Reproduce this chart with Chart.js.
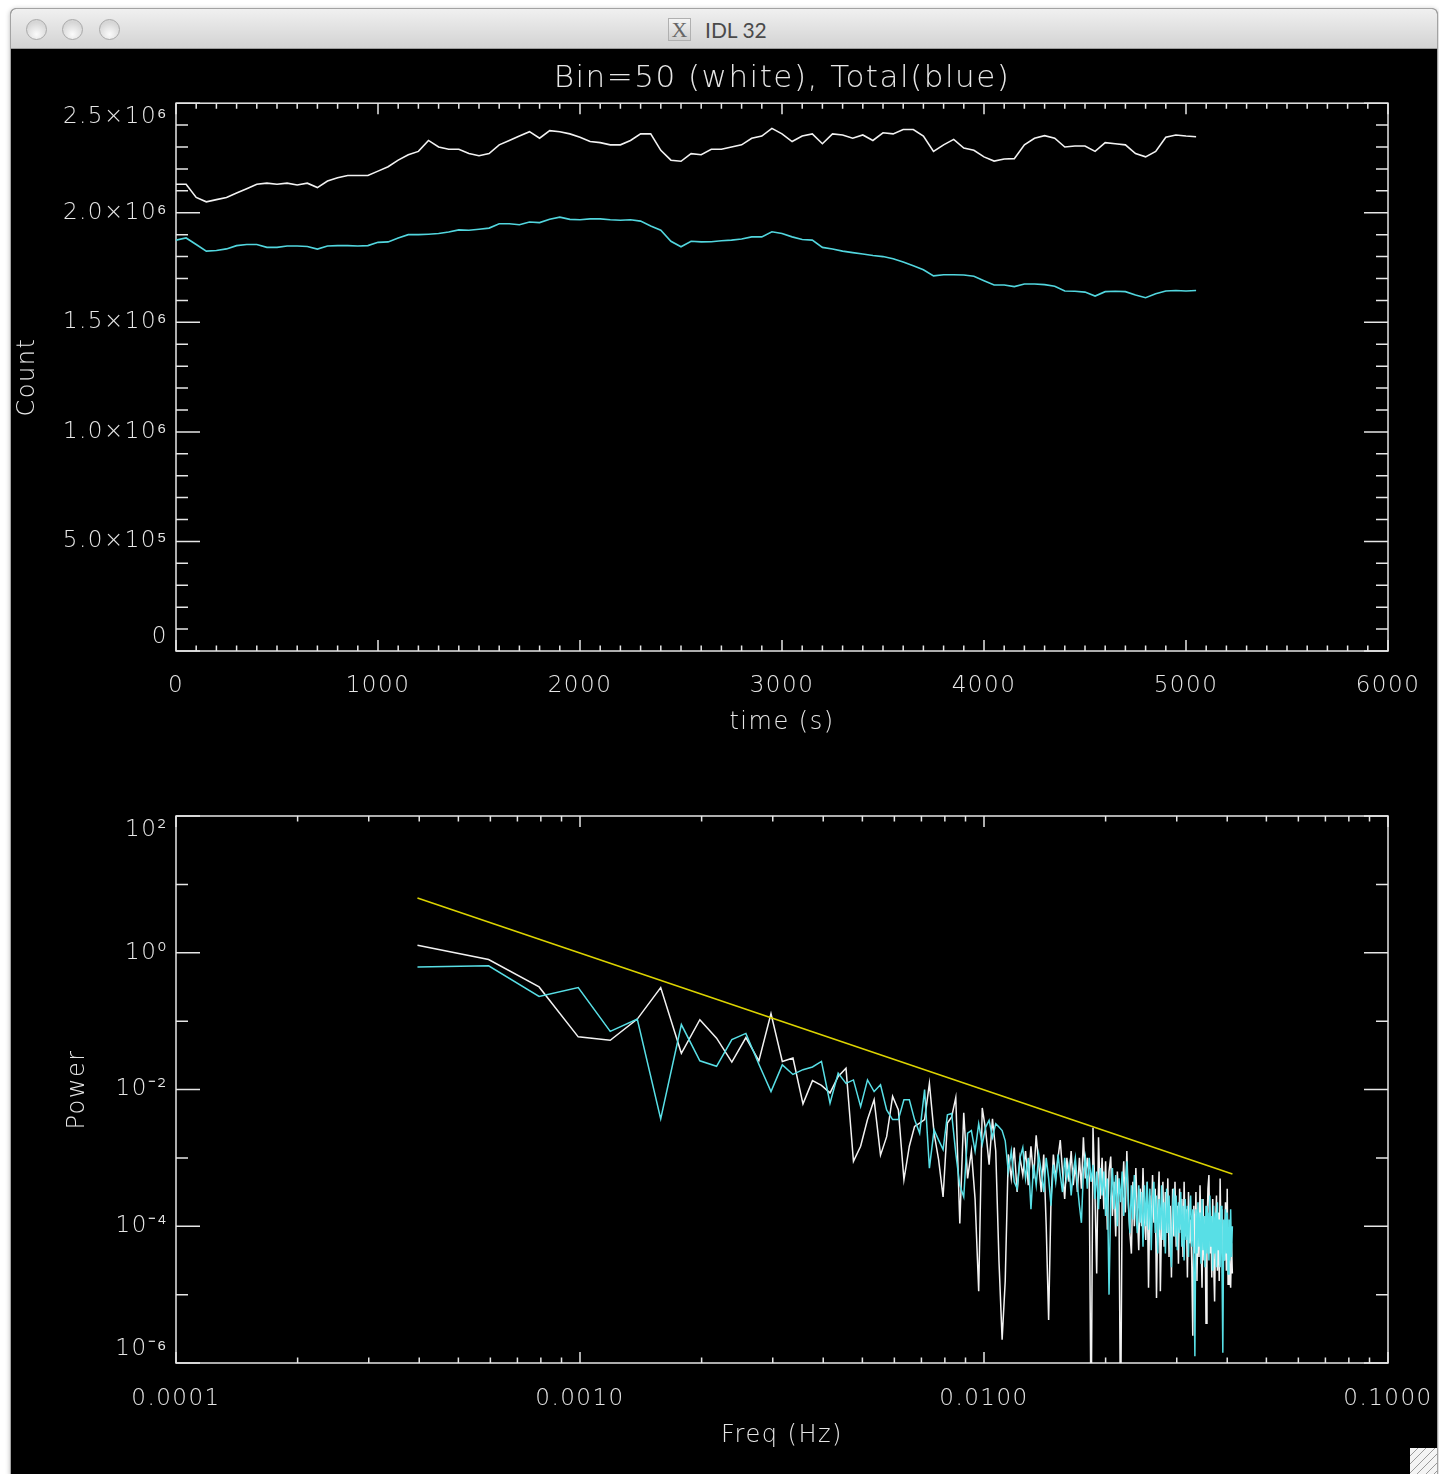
<!DOCTYPE html>
<html>
<head>
<meta charset="utf-8">
<title>IDL 32</title>
<script src="https://cdn.jsdelivr.net/npm/chart.js@4.4.1/dist/chart.umd.min.js"></script>
<style>
  body { margin:0; width:1439px; height:1474px; background:#fff; position:relative; overflow:hidden; }
  #win { position:absolute; left:10px; top:8px; width:1426px; height:1466px; background:#000;
         border:1px solid #a3a3a3; border-bottom:none; border-radius:6px 6px 0 0;
         box-shadow:0 1px 5px rgba(0,0,0,0.28); overflow:hidden; }
  #bar { position:absolute; left:0; top:0; right:0; height:39px;
         background:linear-gradient(#f0f0f0,#d3d3d3); border-bottom:1px solid #9c9c9c; }
  .light { position:absolute; top:10px; width:21px; height:21px; border-radius:50%; box-sizing:border-box;
           border:1px solid #a9a9a9; background:radial-gradient(circle at 50% 75%, #fbfbfb, #d6d6d6 70%); }
  #caption { position:absolute; left:657px; top:8px; height:24px; display:flex; align-items:center;
             font-family:Lato, "Noto Sans", sans-serif; font-size:21px; color:#4a4a4a; }
  #xicon { width:23px; height:23px; box-sizing:border-box; border:1px solid #b0b0b0; margin-right:14px;
           background:linear-gradient(#f4f4f4,#cfcfcf); color:#666; text-align:center;
           font-family:"Liberation Serif", serif; font-size:22px; line-height:22px; }
  canvas { position:absolute; left:0; }
  #grip { position:absolute; left:1399px; top:1439px; width:27px; height:27px; background:#f4f4f4;
          background-image:repeating-linear-gradient(135deg, #f4f4f4 0 5px, #9a9a9a 5px 6px); }
</style>
</head>
<body>
<div id="win">
  <div id="bar">
    <div class="light" style="left:15px"></div>
    <div class="light" style="left:51px"></div>
    <div class="light" style="left:88px"></div>
    <div id="caption"><div id="xicon">X</div>IDL 32</div>
  </div>
  <canvas id="countChart" width="1426" height="700" style="top:40px"></canvas>
  <canvas id="powerChart" width="1426" height="734" style="top:731px"></canvas>
  <div id="grip"></div>
</div>
<script>
// ---- light curve (counts in millions), one sample every 50 s ----
var timeStep = 50;
var binnedCount = [
  2.13, 2.13, 2.07, 2.05, 2.06, 2.07, 2.09, 2.11, 2.13, 2.135,
  2.13, 2.135, 2.127, 2.135, 2.115, 2.145, 2.16, 2.17, 2.17, 2.17,
  2.19, 2.21, 2.24, 2.265, 2.28, 2.33, 2.30, 2.29, 2.29, 2.27,
  2.26, 2.27, 2.31, 2.33, 2.35, 2.37, 2.34, 2.375, 2.37, 2.36,
  2.345, 2.325, 2.32, 2.31, 2.31, 2.33, 2.36, 2.36, 2.285, 2.24,
  2.235, 2.27, 2.265, 2.29, 2.29, 2.30, 2.31, 2.34, 2.35, 2.385,
  2.36, 2.325, 2.35, 2.36, 2.315, 2.36, 2.355, 2.34, 2.355, 2.33,
  2.365, 2.36, 2.38, 2.38, 2.35, 2.28, 2.31, 2.335, 2.295, 2.285,
  2.255, 2.236, 2.245, 2.247, 2.31, 2.34, 2.352, 2.34, 2.30, 2.305,
  2.305, 2.28, 2.32, 2.315, 2.31, 2.27, 2.255, 2.28, 2.345, 2.355,
  2.35, 2.347
];
var totalCount = [
  1.875, 1.885, 1.855, 1.825, 1.828, 1.835, 1.85, 1.855, 1.855, 1.842,
  1.842, 1.848, 1.848, 1.846, 1.834, 1.848, 1.85, 1.85, 1.848, 1.85,
  1.865, 1.867, 1.885, 1.90, 1.90, 1.902, 1.905, 1.912, 1.922, 1.92,
  1.925, 1.93, 1.95, 1.95, 1.945, 1.958, 1.955, 1.97, 1.98, 1.97,
  1.968, 1.972, 1.972, 1.968, 1.966, 1.968, 1.962, 1.94, 1.92, 1.87,
  1.845, 1.87, 1.867, 1.868, 1.872, 1.875, 1.88, 1.89, 1.89, 1.913,
  1.905, 1.89, 1.878, 1.875, 1.842, 1.835, 1.825, 1.818, 1.812, 1.805,
  1.80, 1.79, 1.775, 1.758, 1.74, 1.712, 1.717, 1.717, 1.716, 1.71,
  1.69, 1.67, 1.67, 1.663, 1.675, 1.675, 1.672, 1.665, 1.643, 1.642,
  1.638, 1.62, 1.64, 1.642, 1.64, 1.625, 1.612, 1.63, 1.643, 1.645,
  1.643, 1.645
];
var timeTickValues = [0, 1000, 2000, 3000, 4000, 5000, 6000];
var timeTickLabels = ['0', '1000', '2000', '3000', '4000', '5000', '6000'];
var countTickValues = [0, 0.5, 1.0, 1.5, 2.0, 2.5];
var countTickLabels = ['0', '5.0×10⁵', '1.0×10⁶', '1.5×10⁶', '2.0×10⁶', '2.5×10⁶'];

// ---- power spectra, log10(power), frequency bins k = 2..208 ----
var freqBinWidth = 1.98e-4;
var firstBin = 2;
var binnedPowerLog = [
  0.11, -0.10, -0.50, -1.23, -1.28, -0.97, -0.51, -1.47, -0.98, -1.25,
  -1.60, -1.24, -1.58, -0.89, -1.59, -1.54, -2.21, -1.87, -1.94, -2.05,
  -1.81, -1.69, -3.05, -2.83, -2.44, -2.15, -2.96, -2.69, -2.10, -2.30,
  -3.32, -2.83, -2.54, -2.49, -2.44, -1.91, -2.64, -3.03, -3.57, -2.49,
  -2.40, -2.12, -3.96, -2.34, -3.30, -2.90, -3.60, -4.95, -2.27, -2.60,
  -3.10, -2.43, -2.90, -4.50, -5.66, -4.80, -2.95, -3.30, -2.85, -3.50,
  -3.00, -3.25, -2.90, -3.40, -2.83, -3.30, -2.67, -3.10, -3.50, -2.95,
  -4.00, -5.37, -3.60, -2.95, -3.30, -3.00, -2.74, -3.20, -3.60, -3.00,
  -3.35, -2.90, -3.40, -3.10, -3.50, -3.00, -3.45, -2.70, -3.30, -3.00,
  -3.30, -7.00, -2.56, -3.45, -4.69, -2.70, -3.60, -3.00, -3.75, -3.05,
  -4.05, -3.20, -2.98, -3.85, -3.35, -4.15, -3.20, -3.70, -7.00, -3.55,
  -3.05, -3.80, -2.90, -3.65, -4.10, -4.40, -3.35, -4.00, -3.15, -3.80,
  -4.35, -3.45, -4.00, -3.15, -3.85, -4.20, -3.35, -4.90, -3.55, -4.05,
  -3.25, -3.95, -3.45, -5.05, -3.75, -3.20, -4.95, -3.90, -3.35, -4.30,
  -3.50, -4.10, -3.30, -4.45, -3.70, -4.75, -3.45, -4.15, -3.35, -4.30,
  -3.70, -4.55, -3.45, -4.05, -3.60, -4.45, -3.35, -4.15, -3.75, -4.75,
  -3.50, -4.25, -3.90, -4.50, -5.60, -3.70, -4.40, -3.50, -4.80, -3.85,
  -4.45, -3.40, -4.15, -4.90, -3.60, -4.50, -3.85, -5.42, -4.05, -3.45,
  -3.25, -4.40, -3.90, -4.75, -3.60, -4.55, -5.10, -4.00, -3.55, -4.65,
  -3.80, -4.80, -3.30, -4.20, -3.75, -4.90, -3.95, -4.50, -3.65, -4.65,
  -3.45, -4.85, -4.10, -4.70, -4.90, -4.25, -4.69
];
var totalPowerLog = [
  -0.21, -0.19, -0.64, -0.51, -1.15, -0.97, -2.43, -1.05, -1.58, -1.66,
  -1.27, -1.18, -1.63, -2.03, -1.64, -1.78, -1.71, -1.67, -1.59, -2.20,
  -1.76, -1.91, -1.86, -2.25, -1.86, -2.03, -1.93, -2.30, -2.44, -2.44,
  -2.15, -2.15, -2.44, -2.64, -2.00, -3.15, -2.59, -2.74, -2.88, -2.37,
  -2.35, -2.93, -3.40, -3.57, -2.64, -2.60, -2.90, -2.50, -2.80, -2.55,
  -2.45, -2.70, -2.50, -2.55, -2.60, -2.75, -3.20, -2.90, -3.35, -3.45,
  -3.00, -2.85, -3.30, -3.00, -3.75, -3.10, -3.40, -2.95, -3.20, -3.50,
  -3.00, -3.30, -3.70, -3.10, -3.35, -2.95, -3.25, -3.50, -3.00, -3.30,
  -3.10, -3.55, -3.20, -3.00, -3.40, -3.70, -3.95, -3.20, -3.00, -3.45,
  -3.00, -3.35, -3.10, -3.60, -3.20, -3.75, -3.15, -3.55, -3.20, -3.85,
  -3.30, -5.00, -3.60, -3.15, -3.75, -3.25, -4.00, -3.30, -3.65, -3.20,
  -3.85, -3.40, -3.05, -3.70, -4.10, -3.40, -3.90, -3.25, -3.75, -4.10,
  -3.40, -3.95, -3.50, -4.30, -3.40, -4.00, -3.35, -4.05, -3.45, -4.35,
  -3.60, -3.35, -4.10, -3.55, -4.40, -3.60, -4.05, -3.40, -4.20, -3.65,
  -4.40, -3.45, -4.10, -3.55, -4.30, -4.60, -3.70, -3.45, -4.15, -3.55,
  -4.35, -3.65, -4.10, -3.50, -4.30, -3.70, -4.50, -3.60, -4.20, -3.70,
  -4.45, -3.80, -3.55, -4.30, -3.75, -4.50, -5.90, -3.75, -4.40, -3.65,
  -4.30, -3.80, -4.55, -3.60, -4.35, -3.85, -4.60, -3.70, -4.40, -3.80,
  -4.50, -3.55, -4.30, -3.85, -4.65, -3.70, -4.40, -3.80, -4.60, -3.65,
  -4.35, -3.90, -4.60, -3.70, -4.45, -5.85, -3.90, -4.50, -3.75, -4.40,
  -3.80, -4.70, -3.90, -4.50, -3.75, -4.45, -4.00
];
// f^-2 reference line (yellow), end points
var slopeFreq = [3.96e-4, 4.12e-2];
var slopePower = [6.3, 5.8e-4];

var freqTickValues = [1e-4, 1e-3, 1e-2, 1e-1];
var freqTickLabels = ['0.0001', '0.0010', '0.0100', '0.1000'];
var powerTickValues = [1e-6, 1e-4, 1e-2, 1, 1e2];
var powerTickLabels = ['10⁻⁶', '10⁻⁴', '10⁻²', '10⁰', '10²'];

var fg = '#e6e6e6';
var fontFamily = '"DejaVu Sans", sans-serif';
var labelFont = {family: fontFamily, size: 23, weight: 200};
var titleFont = {family: fontFamily, size: 24, weight: 200};

// IDL style box with inward ticks on all four sides
var idlFrame = {
  id: 'idlFrame',
  beforeDraw: function(chart) {
    chart.ctx.letterSpacing = '1.5px';
  },
  beforeDatasetsDraw: function(chart, args, o) {
    var ctx = chart.ctx, a = chart.chartArea;
    var xs = chart.scales.x, ys = chart.scales.y;
    ctx.save();
    ctx.strokeStyle = fg;
    ctx.lineWidth = 1.5;
    ctx.strokeRect(a.left, a.top, a.right - a.left, a.bottom - a.top);
    ctx.beginPath();
    o.xTicks.forEach(function(t) {
      var p = xs.getPixelForValue(t[0]);
      ctx.moveTo(p, a.bottom); ctx.lineTo(p, a.bottom - t[1]);
      ctx.moveTo(p, a.top); ctx.lineTo(p, a.top + t[1]);
    });
    o.yTicks.forEach(function(t) {
      var p = ys.getPixelForValue(t[0]);
      ctx.moveTo(a.left, p); ctx.lineTo(a.left + t[1], p);
      ctx.moveTo(a.right, p); ctx.lineTo(a.right - t[1], p);
    });
    ctx.stroke();
    ctx.restore();
  }
};

// top label pushed down, bottom label pushed up, like IDL does
function edgeLabel(labels) {
  return function(v, i) {
    if (i === 0) return [labels[i], ''];
    if (i === labels.length - 1) return ['', labels[i]];
    return labels[i];
  };
}

function setTicks(values) {
  return function(scale) {
    scale.ticks = values.map(function(v) { return {value: v}; });
  };
}

// fixed axis box sizes so the plot frame lands where IDL put it
function fixHeight(h) {
  return function(s) { s.height = h; s.paddingLeft = 0; s.paddingRight = 0; };
}
function fixWidth(w) {
  return function(s) { s.width = w; s.paddingTop = 0; s.paddingBottom = 0; };
}

// ---------- top: light curves ----------
var times = binnedCount.map(function(_, i) { return i * timeStep; });
var countXTicks = [];
for (var v = 0; v <= 6000; v += 100) countXTicks.push([v, v % 1000 === 0 ? 11 : 5.5]);
var countYTicks = [];
for (var i = 0; i <= 25; i++) countYTicks.push([i / 10, i % 5 === 0 ? 24 : 12]);

new Chart(document.getElementById('countChart'), {
  type: 'line',
  data: {
    datasets: [{
      data: totalCount.map(function(c, i) { return {x: times[i], y: c}; }),
      borderColor: '#52d6de', borderWidth: 1.6, pointRadius: 0
    }, {
      data: binnedCount.map(function(c, i) { return {x: times[i], y: c}; }),
      borderColor: '#f2f2f2', borderWidth: 1.6, pointRadius: 0
    }]
  },
  options: {
    responsive: false, animation: false, devicePixelRatio: 1, events: [],
    layout: {padding: {left: 0, right: 49, top: 0, bottom: 0}},
    plugins: {
      legend: {display: false}, tooltip: {enabled: false},
      title: {display: true, fullSize: false, text: 'Bin=50 (white), Total(blue)', color: fg,
              font: {family: fontFamily, size: 31, weight: 200}, padding: {top: 11, bottom: 6}},
      idlFrame: {xTicks: countXTicks, yTicks: countYTicks}
    },
    scales: {
      x: {
        type: 'linear', min: 0, max: 6000,
        afterBuildTicks: setTicks(timeTickValues),
        afterFit: fixHeight(98),
        grid: {display: false, drawTicks: false}, border: {display: false},
        ticks: {color: fg, font: labelFont, padding: 21, maxRotation: 0, autoSkip: false,
                callback: function(v, i) { return timeTickLabels[i]; }},
        title: {display: true, text: 'time (s)', color: fg, font: titleFont, padding: {top: 0, bottom: 12}}
      },
      y: {
        type: 'linear', min: 0, max: 2.5,
        afterBuildTicks: setTicks(countTickValues),
        afterFit: fixWidth(165),
        grid: {display: false, drawTicks: false}, border: {display: false},
        ticks: {color: fg, font: labelFont, padding: 8, autoSkip: false,
                callback: edgeLabel(countTickLabels)},
        title: {display: true, text: 'Count', color: fg, font: titleFont, padding: {top: 2, bottom: 0}}
      }
    }
  },
  plugins: [idlFrame]
});

// ---------- bottom: power spectra ----------
var freqs = binnedPowerLog.map(function(_, i) { return (firstBin + i) * freqBinWidth; });
var powerXTicks = [];
[-4, -3, -2, -1].forEach(function(e) {
  powerXTicks.push([Math.pow(10, e), 11]);
  if (e < -1) for (var m = 2; m <= 9; m++) powerXTicks.push([m * Math.pow(10, e), 5.5]);
});
var powerYTicks = [];
for (var e = -6; e <= 2; e++) powerYTicks.push([Math.pow(10, e), e % 2 === 0 ? 24 : 12]);

new Chart(document.getElementById('powerChart'), {
  type: 'line',
  data: {
    datasets: [{
      data: slopeFreq.map(function(f, i) { return {x: f, y: slopePower[i]}; }),
      borderColor: '#dcd300', borderWidth: 1.6, pointRadius: 0
    }, {
      data: totalPowerLog.map(function(p, i) { return {x: freqs[i], y: Math.pow(10, p)}; }),
      borderColor: '#58dfe6', borderWidth: 1.5, pointRadius: 0
    }, {
      data: binnedPowerLog.map(function(p, i) { return {x: freqs[i], y: Math.pow(10, p)}; }),
      borderColor: '#f2f2f2', borderWidth: 1.5, pointRadius: 0
    }]
  },
  options: {
    responsive: false, animation: false, devicePixelRatio: 1, events: [],
    layout: {padding: {left: 0, right: 49, top: 76, bottom: 0}},
    plugins: {
      legend: {display: false}, tooltip: {enabled: false},
      idlFrame: {xTicks: powerXTicks, yTicks: powerYTicks}
    },
    scales: {
      x: {
        type: 'logarithmic', min: 1e-4, max: 0.1,
        afterBuildTicks: setTicks(freqTickValues),
        afterFit: fixHeight(111),
        grid: {display: false, drawTicks: false}, border: {display: false},
        ticks: {color: fg, font: labelFont, padding: 22, maxRotation: 0, autoSkip: false,
                callback: function(v, i) { return freqTickLabels[i]; }},
        title: {display: true, text: 'Freq (Hz)', color: fg, font: titleFont, padding: {top: 0, bottom: 24}}
      },
      y: {
        type: 'logarithmic', min: 1e-6, max: 1e2,
        afterBuildTicks: setTicks(powerTickValues),
        afterFit: fixWidth(165),
        grid: {display: false, drawTicks: false}, border: {display: false},
        ticks: {color: fg, font: labelFont, padding: 8, autoSkip: false,
                callback: edgeLabel(powerTickLabels)},
        title: {display: true, text: 'Power', color: fg, font: titleFont, padding: {top: 52, bottom: 0}}
      }
    }
  },
  plugins: [idlFrame]
});
</script>
</body>
</html>
